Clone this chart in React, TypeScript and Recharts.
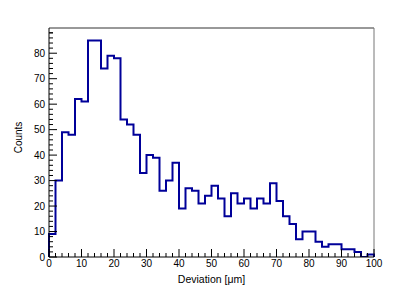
import { Label, Line, LineChart, ReferenceLine, XAxis, YAxis } from "recharts";

// Deviation histogram: 50 bins of 2 µm from 0 to 100, counts per bin.
const BIN_WIDTH = 2;
const counts = [
  9, 30, 49, 48, 62, 61, 85, 85, 74, 79,
  78, 54, 52, 48, 33, 40, 39, 26, 30, 37,
  19, 27, 26, 21, 24, 28, 23, 16, 25, 21,
  23, 19, 23, 21, 29, 22, 16, 13, 7, 10,
  10, 6, 4, 5, 5, 3, 3, 2, 0, 1,
];

const X_MAJOR = [0, 10, 20, 30, 40, 50, 60, 70, 80, 90, 100];
const Y_MAJOR = [0, 10, 20, 30, 40, 50, 60, 70, 80];
const Y_MAX = 89.9;

// minor ticks every 2 units, like ROOT's 5 subdivisions
const xTicks = X_MAJOR.flatMap((v, i) => (i === X_MAJOR.length - 1 ? [v] : [v, v + 2, v + 4, v + 6, v + 8]));
const yTicks = [...Y_MAJOR.flatMap((v) => [v, v + 2, v + 4, v + 6, v + 8]), 88].filter((v) => v <= Y_MAX);

// step outline: drop to zero at both ends the way ROOT draws a histogram
const histData = [
  { x: 0, y: 0 },
  ...counts.map((c, i) => ({ x: i * BIN_WIDTH, y: c })),
  { x: counts.length * BIN_WIDTH, y: 0 },
];

const FONT = "Liberation Sans, Arial, Helvetica, sans-serif";
const LINE = "#000099";

function XTick({ x, y, payload }: any) {
  const major = payload.value % 10 === 0;
  return (
    <g>
      <line x1={x} x2={x} y1={y} y2={y - (major ? 8 : 4)} stroke="#000" strokeWidth={1} />
      {major && (
        <text x={x} y={y + 10} textAnchor="middle" fontSize={10} fontFamily={FONT} fill="#000">
          {payload.value}
        </text>
      )}
    </g>
  );
}

function YTick({ x, y, payload }: any) {
  const major = payload.value % 10 === 0;
  return (
    <g>
      <line x1={x} x2={x + (major ? 8 : 4)} y1={y} y2={y} stroke="#000" strokeWidth={1} />
      {major && (
        <text x={x - 4} y={y + 3.5} textAnchor="end" fontSize={10} fontFamily={FONT} fill="#000">
          {payload.value}
        </text>
      )}
    </g>
  );
}

function CountsLabel({ viewBox }: any) {
  const cx = viewBox.x + 22;
  const cy = viewBox.y + viewBox.height / 2 - 5;
  return (
    <text x={cx} y={cy} transform={`rotate(-90, ${cx}, ${cy})`} textAnchor="middle" fontSize={10} fontFamily={FONT} fill="#000">
      Counts
    </text>
  );
}

export default function App() {
  return (
    <div style={{ position: "fixed", left: 0, top: 0, width: 407, height: 292, background: "#fff" }}>
      <LineChart width={407} height={292} data={histData} margin={{ top: 28, right: 33, bottom: 0, left: 0 }}>
        <XAxis
          type="number"
          dataKey="x"
          domain={[0, 100]}
          ticks={xTicks}
          interval={0}
          tickSize={0}
          tickMargin={0}
          tickLine={false}
          tick={<XTick />}
          axisLine={{ stroke: "#000" }}
          height={35}
        >
          <Label value="Deviation [μm]" position="insideBottom" offset={9} fontSize={10.5} fontFamily={FONT} fill="#000" />
        </XAxis>
        <YAxis
          type="number"
          domain={[0, Y_MAX]}
          ticks={yTicks}
          interval={0}
          tickSize={0}
          tickMargin={0}
          tickLine={false}
          tick={<YTick />}
          axisLine={{ stroke: "#000" }}
          width={49}
          allowDataOverflow
        >
          <Label content={<CountsLabel />} />
        </YAxis>
        <ReferenceLine y={Y_MAX} stroke="#333" strokeWidth={1} ifOverflow="visible" />
        <ReferenceLine x={100} stroke="#777" strokeWidth={1} ifOverflow="visible" />
        <Line
          type="stepAfter"
          dataKey="y"
          stroke={LINE}
          strokeWidth={2}
          dot={false}
          activeDot={false}
          isAnimationActive={false}
        />
      </LineChart>
    </div>
  );
}
